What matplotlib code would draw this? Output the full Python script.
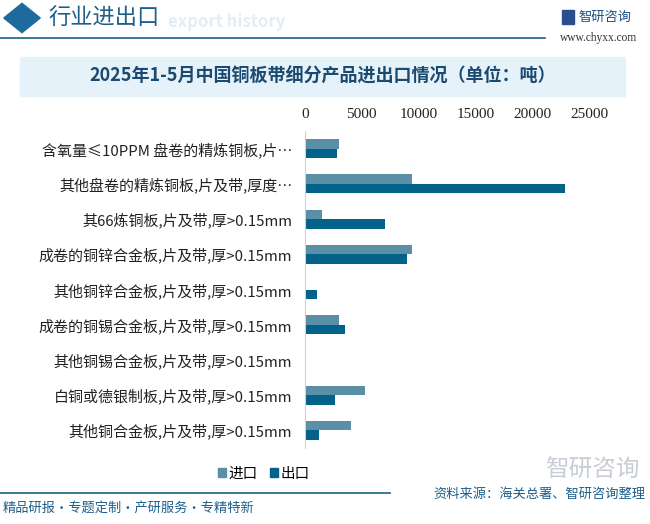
import matplotlib.pyplot as plt
import matplotlib.patches as mpatches
import numpy as np

plt.rcParams['font.family'] = ['Noto Sans CJK SC', 'DejaVu Sans']

# 数据（单位：吨）
categorias = [
    "含氧量≤10PPM 盘卷的精炼铜板,片…",
    "其他盘卷的精炼铜板,片及带,厚度…",
    "其66炼铜板,片及带,厚>0.15mm",
    "成卷的铜锌合金板,片及带,厚>0.15mm",
    "其他铜锌合金板,片及带,厚>0.15mm",
    "成卷的铜锡合金板,片及带,厚>0.15mm",
    "其他铜锡合金板,片及带,厚>0.15mm",
    "白铜或德银制板,片及带,厚>0.15mm",
    "其他铜合金板,片及带,厚>0.15mm",
]
importacion = [3010, 9410, 1520, 9410, 90, 3010, 80, 5290, 4060]
exportacion = [2840, 22830, 7040, 8970, 1080, 3530, 60, 2650, 1250]
ticks_x = [0, 5000, 10000, 15000, 20000, 25000]

c_imp = "#5b8fa6"
c_exp = "#03628a"
azul = "#1d5f8c"

W, H = 650, 524
fig = plt.figure(figsize=(W / 100, H / 100), dpi=100)

# cabecera
fig.patches.append(mpatches.RegularPolygon((22 / W, 1 - 18 / H), 4, radius=0.028,
                                           transform=fig.transFigure, color="#1f6a9c"))
fig.text(48 / W, 1 - 18 / H, "行业进出口", fontsize=16, color=azul, va="center")
fig.text(168 / W, 1 - 22 / H, "export history", fontsize=12, color="#e3edf5",
         va="center", fontweight="bold", zorder=0)
fig.add_artist(plt.Line2D([0, 545 / W], [1 - 38 / H, 1 - 38 / H], color=azul, lw=1.2))
fig.patches.append(mpatches.Rectangle((562 / W, 1 - 24 / H), 12 / W, 14 / H,
                                      transform=fig.transFigure, color="#2b4f8c"))
fig.text(578 / W, 1 - 17 / H, "智研咨询", fontsize=9.5, color="#1d4f80", va="center")
fig.text(560 / W, 1 - 38 / H, "www.chyxx.com", fontsize=8.3, color="#333333", va="center",
         family="Liberation Serif")

# banda del titulo
fig.patches.append(mpatches.Rectangle((20 / W, 1 - 96 / H), 605 / W, 39 / H,
                                      transform=fig.transFigure, color="#e6f2fa", zorder=0))
fig.text(323 / W, 1 - 76 / H, "2025年1-5月中国铜板带细分产品进出口情况（单位：吨）",
         fontsize=13, color="#1a4a70", ha="center", va="center", fontweight="bold")

# grafico
ax = fig.add_axes([304.7 / W, 76 / H, (625 - 304.7) / W, 317 / H])
y = np.arange(len(categorias))
h = 0.27
ax.barh(y - h / 2, importacion, height=h, color=c_imp, label="进口")
ax.barh(y + h / 2, exportacion, height=h, color=c_exp, label="出口")
ax.set_ylim(8.5, -0.5)
ax.set_xlim(0, 28100)
ax.set_yticks(y)
ax.set_yticklabels(categorias, fontsize=10.8, color="#222222")
ax.set_xticks(ticks_x)
ax.set_xticklabels([str(t) for t in ticks_x], fontsize=11, family="Liberation Serif",
                   color="#222222")
ax.xaxis.tick_top()
ax.tick_params(axis="x", length=0, pad=7)
ax.tick_params(axis="y", length=0, pad=9)
for s in ["top", "right", "bottom"]:
    ax.spines[s].set_visible(False)
ax.spines["left"].set_color("#d0d0d0")
ax.patch.set_alpha(0)

# leyenda
handles = [mpatches.Patch(color=c_imp, label="进口"), mpatches.Patch(color=c_exp, label="出口")]
fig.legend(handles=handles, loc="center", bbox_to_anchor=(264 / W, 1 - 474 / H), ncol=2,
           frameon=False, fontsize=10.5, handlelength=0.55, handleheight=0.55,
           handletextpad=0.2, columnspacing=0.8)

# pie
fig.add_artist(plt.Line2D([0, 390 / W], [1 - 493 / H, 1 - 493 / H], color=azul, lw=1.2))
fig.text(3 / W, 1 - 508 / H, "精品研报・专题定制・产研服务・专精特新", fontsize=9.5,
         color=azul, va="center")
fig.text(645 / W, 1 - 494 / H, "资料来源：海关总署、智研咨询整理", fontsize=9.5,
         color=azul, ha="right", va="center")
fig.text(592 / W, 1 - 470 / H, "智研咨询", fontsize=17, color="#c8ccd4", ha="center",
         va="center", zorder=0)

fig.savefig("out.png", dpi=100)
